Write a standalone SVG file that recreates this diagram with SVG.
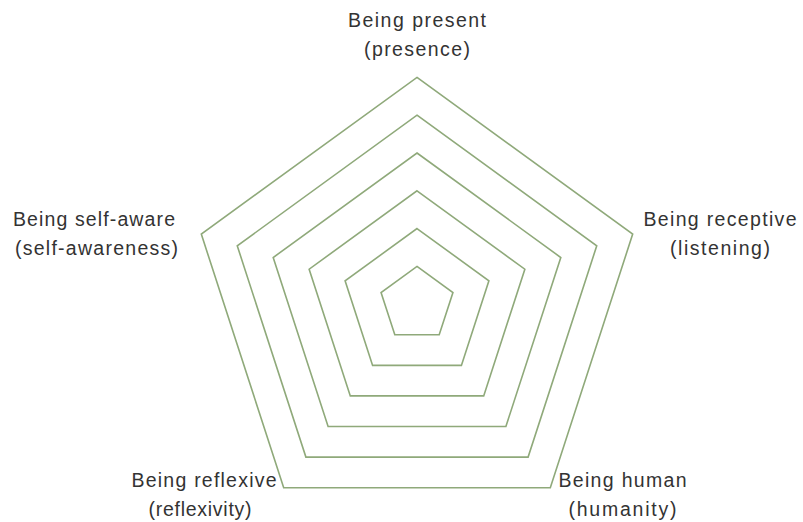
<svg xmlns="http://www.w3.org/2000/svg" width="803" height="522" viewBox="0 0 803 522">
  <style>
    .ring { fill: none; stroke: #8FA97A; stroke-width: 1.6; stroke-linejoin: miter; }
    .lbl { font-family: "Liberation Sans", Arial, sans-serif; font-size: 19.5px; fill: #333333; text-anchor: middle; }
  </style>
  <rect width="803" height="522" fill="#ffffff"/>

  <!-- concentric pentagon grid, centre (417, 304.2), step 37.8 -->
  <g id="grid">
    <polygon class="ring" points="417,77.4 632.7,234.1 550.3,487.7 283.7,487.7 201.3,234.1"/>
    <polygon class="ring" points="417,115.2 596.75,245.8 528.1,457.1 305.9,457.1 237.25,245.8"/>
    <polygon class="ring" points="417,153 560.8,257.5 505.9,426.5 328.1,426.5 273.2,257.5"/>
    <polygon class="ring" points="417,190.8 524.85,269.2 483.7,395.9 350.3,395.9 309.15,269.2"/>
    <polygon class="ring" points="417,228.6 488.9,280.8 461.4,365.4 372.6,365.4 345.1,280.8"/>
    <polygon class="ring" points="417,266.4 452.95,292.5 439.2,334.8 394.8,334.8 381.05,292.5"/>
  </g>

  <g id="label-presence">
    <text class="lbl" x="417" y="27" textLength="138" lengthAdjust="spacing">Being present</text>
    <text class="lbl" x="417" y="56" textLength="106" lengthAdjust="spacing">(presence)</text>
  </g>
  <g id="label-listening">
    <text class="lbl" x="720" y="226" textLength="153" lengthAdjust="spacing">Being receptive</text>
    <text class="lbl" x="720" y="255" textLength="100" lengthAdjust="spacing">(listening)</text>
  </g>
  <g id="label-humanity">
    <text class="lbl" x="622.5" y="487" textLength="128" lengthAdjust="spacing">Being human</text>
    <text class="lbl" x="622.5" y="516" textLength="108" lengthAdjust="spacing">(humanity)</text>
  </g>
  <g id="label-reflexivity">
    <text class="lbl" x="204" y="487" textLength="145" lengthAdjust="spacing">Being reflexive</text>
    <text class="lbl" x="200" y="516" textLength="103" lengthAdjust="spacing">(reflexivity)</text>
  </g>
  <g id="label-self-awareness">
    <text class="lbl" x="94" y="226" textLength="162" lengthAdjust="spacing">Being self-aware</text>
    <text class="lbl" x="96.5" y="255" textLength="163" lengthAdjust="spacing">(self-awareness)</text>
  </g>
</svg>
